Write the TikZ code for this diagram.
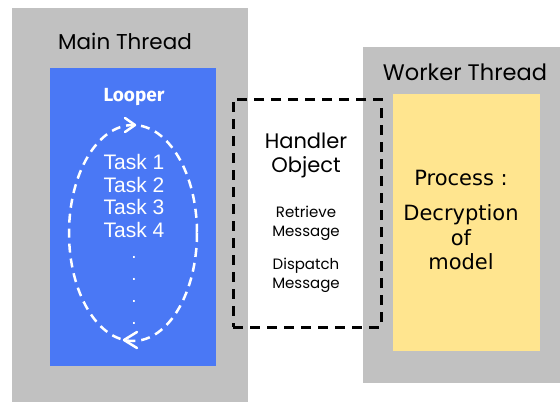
\documentclass[tikz,border=0pt]{standalone}
\usepackage{fontspec}
\usetikzlibrary{arrows.meta}
\newfontfamily\popfont{Poppins}
\newfontfamily\arialfont{Liberation Sans}
\newfontfamily\verdfont{DejaVu Sans}
\newfontfamily\looperfont{Fira Sans}
\definecolor{threadgray}{RGB}{193,193,193}
\definecolor{looperblue}{RGB}{74,120,245}
\definecolor{processyellow}{RGB}{255,229,143}

\begin{document}
\begin{tikzpicture}[x=1pt, y=-1pt,
    panel/.style={draw=none, inner sep=0pt},
    title/.style={font=\popfont\fontsize{21.5}{24}\selectfont},
    tasktext/.style={text=white, font=\arialfont\fontsize{21}{22.5}\selectfont, align=center},
    smalltext/.style={font=\popfont\fontsize{15}{19}\selectfont, align=center},
    bigtext/.style={font=\verdfont\fontsize{21}{24.5}\selectfont, align=center},
    chevron/.style={white, line width=2.5pt, line cap=round, line join=round}]
    \useasboundingbox (0,0) rectangle (560,402);
    % thread panels
    \node[panel, fill=threadgray, minimum width=236pt, minimum height=394pt] (mainthread) at (130,205) {};
    \node[panel, fill=threadgray, minimum width=197pt, minimum height=336pt] (workerthread) at (461.5,215) {};
    \node[panel, fill=looperblue, minimum width=166pt, minimum height=298pt] (looper) at (133,217) {};
    \node[panel, fill=processyellow, minimum width=147pt, minimum height=257pt] (process) at (466.5,222.5) {};
    \node[panel, draw=black, line width=3pt, dash pattern=on 10pt off 7pt, minimum width=148pt, minimum height=228pt] (handler) at (307,213) {};
    % titles
    \node[title] (maintitle) at (125,41) {Main Thread};
    \node[title, font=\popfont\fontsize{22.5}{24}\selectfont] (workertitle) at (465,72) {Worker Thread};
    % looper
    \node[text=white, font=\looperfont\bfseries\fontsize{19}{20}\selectfont] (loopertitle) at (134,97) {Looper};
    \draw[white, line width=2.5pt, dash pattern=on 9pt off 6pt] (133,233) ellipse (64 and 108);
    \draw[chevron] (125,118) -- (135,125) -- (125,132);
    \draw[chevron] (137,332) -- (124,340) -- (137,348);
    \node[tasktext] (tasks) at (134,196) {Task 1\\Task 2\\Task 3\\Task 4};
    \foreach \y [count=\i] in {257,279,301,323}
        \node[text=white, inner sep=0pt, font=\arialfont\fontsize{19}{20}\selectfont] (dot\i) at (134,\y) {.};
    % handler
    \node[font=\popfont\fontsize{21}{24}\selectfont, align=center] (handlertitle) at (306,155) {Handler\\Object};
    \node[smalltext] (retrieve) at (306,223.5) {Retrieve\\Message};
    \node[smalltext] (dispatch) at (306,275.5) {Dispatch\\Message};
    % process
    \node[bigtext] (processtitle) at (461,178) {Process :};
    \node[bigtext] (processtext) at (461,237.5) {Decryption\\of\\model};
\end{tikzpicture}
\end{document}
